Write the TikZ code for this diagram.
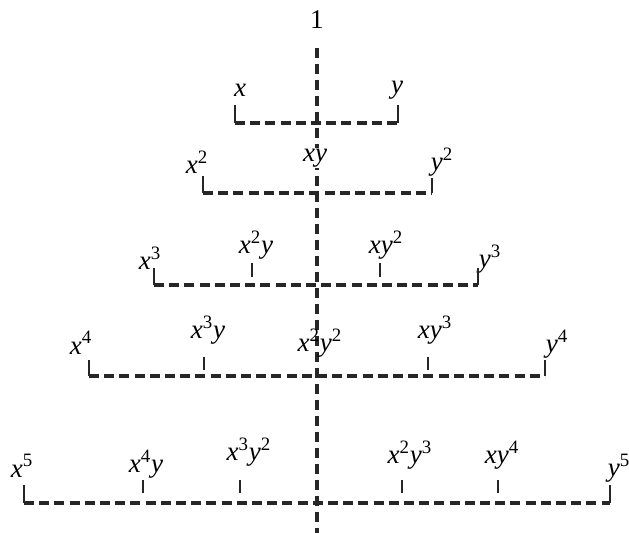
\documentclass[tikz,border=0pt]{standalone}
\usepackage{fontspec}
\setmainfont{Liberation Serif}
\usetikzlibrary{positioning}
\newcommand{\pw}[1]{\textsuperscript{\upshape #1}}
\tikzset{
  lab/.style={font=\fontsize{13.5}{15}\selectfont\itshape, inner sep=0.5pt},
  rung/.style={line width=1.6pt, dash pattern=on 5pt off 2.6pt, black!85},
  axis/.style={line width=1.6pt, dash pattern=on 5pt off 3pt, black!85},
  tick/.style={line width=1.4pt, black!85},
}
\begin{document}
\begin{tikzpicture}[x=0.5pt, y=-0.5pt]
  \useasboundingbox (0,0) rectangle (629,533);
  % axis
  \node[lab, font=\fontsize{13.5}{15}\selectfont] (one) at (317,20) {1};
  \coordinate (atop) at (317,48);
  \coordinate (abot) at (317,533);
  \draw[axis] (atop) -- (abot);

  % row 1
  \node[lab] (x1) at (240,90) {x};
  \node[lab] (y1) at (397,90) {y};
  \coordinate (r1l) at (235,123);
  \coordinate (r1r) at (398,123);
  \coordinate (t1l) at (235,105);
  \coordinate (t1r) at (398,105);
  \draw[rung] (r1l) -- (r1r);
  \draw[tick] (t1l) -- (r1l);
  \draw[tick] (t1r) -- (r1r);

  % row 2
  \node[lab] (x2) at (197,162) {x\pw{2}};
  \node[lab, fill=white] (xy) at (315,158) {xy};
  \node[lab] (y2) at (442,162) {y\pw{2}};
  \coordinate (r2l) at (203,193);
  \coordinate (r2r) at (432,193);
  \coordinate (t2l) at (203,176);
  \coordinate (t2r) at (432,178);
  \draw[rung] (r2l) -- (r2r);
  \draw[tick] (t2l) -- (r2l);
  \draw[tick] (t2r) -- (r2r);

  % row 3
  \node[lab] (x3) at (150,258) {x\pw{3}};
  \node[lab] (x2y) at (256,245) {x\pw{2}y};
  \node[lab] (xy2) at (386,245) {xy\pw{2}};
  \node[lab] (y3) at (490,259) {y\pw{3}};
  \coordinate (r3l) at (154,285);
  \coordinate (r3r) at (478,285);
  \coordinate (t3l) at (154,268);
  \coordinate (t3r) at (478,268);
  \coordinate (s3a) at (252,263);
  \coordinate (e3a) at (252,277);
  \coordinate (s3b) at (380,263);
  \coordinate (e3b) at (380,277);
  \draw[rung] (r3l) -- (r3r);
  \draw[tick] (t3l) -- (r3l);
  \draw[tick] (t3r) -- (r3r);
  \draw[tick] (s3a) -- (e3a);
  \draw[tick] (s3b) -- (e3b);

  % row 4
  \node[lab] (x4) at (81,343) {x\pw{4}};
  \node[lab] (x3y) at (208,330) {x\pw{3}y};
  \node[lab] (x2y2) at (320,343) {x\pw{2}y\pw{2}};
  \node[lab] (xy3) at (435,330) {xy\pw{3}};
  \node[lab] (y4) at (557,344) {y\pw{4}};
  \coordinate (r4l) at (89,376);
  \coordinate (r4r) at (545,376);
  \coordinate (t4l) at (89,360);
  \coordinate (t4r) at (545,360);
  \coordinate (s4a) at (204,357);
  \coordinate (e4a) at (204,370);
  \coordinate (s4b) at (428,357);
  \coordinate (e4b) at (428,370);
  \draw[rung] (r4l) -- (r4r);
  \draw[tick] (t4l) -- (r4l);
  \draw[tick] (t4r) -- (r4r);
  \draw[tick] (s4a) -- (e4a);
  \draw[tick] (s4b) -- (e4b);

  % row 5
  \node[lab] (x5) at (22,466) {x\pw{5}};
  \node[lab] (x4y) at (146,464) {x\pw{4}y};
  \node[lab] (x3y2) at (249,452) {x\pw{3}y\pw{2}};
  \node[lab] (x2y3) at (410,455) {x\pw{2}y\pw{3}};
  \node[lab] (xy4) at (502,455) {xy\pw{4}};
  \node[lab] (y5) at (619,468) {y\pw{5}};
  \coordinate (r5l) at (24,503);
  \coordinate (r5r) at (610,503);
  \coordinate (t5l) at (24,485);
  \coordinate (t5r) at (610,485);
  \coordinate (s5a) at (143,480);
  \coordinate (e5a) at (143,493);
  \coordinate (s5b) at (240,480);
  \coordinate (e5b) at (240,493);
  \coordinate (s5c) at (402,480);
  \coordinate (e5c) at (402,493);
  \coordinate (s5d) at (498,480);
  \coordinate (e5d) at (498,493);
  \draw[rung] (r5l) -- (r5r);
  \draw[tick] (t5l) -- (r5l);
  \draw[tick] (t5r) -- (r5r);
  \draw[tick] (s5a) -- (e5a);
  \draw[tick] (s5b) -- (e5b);
  \draw[tick] (s5c) -- (e5c);
  \draw[tick] (s5d) -- (e5d);
\end{tikzpicture}
\end{document}
